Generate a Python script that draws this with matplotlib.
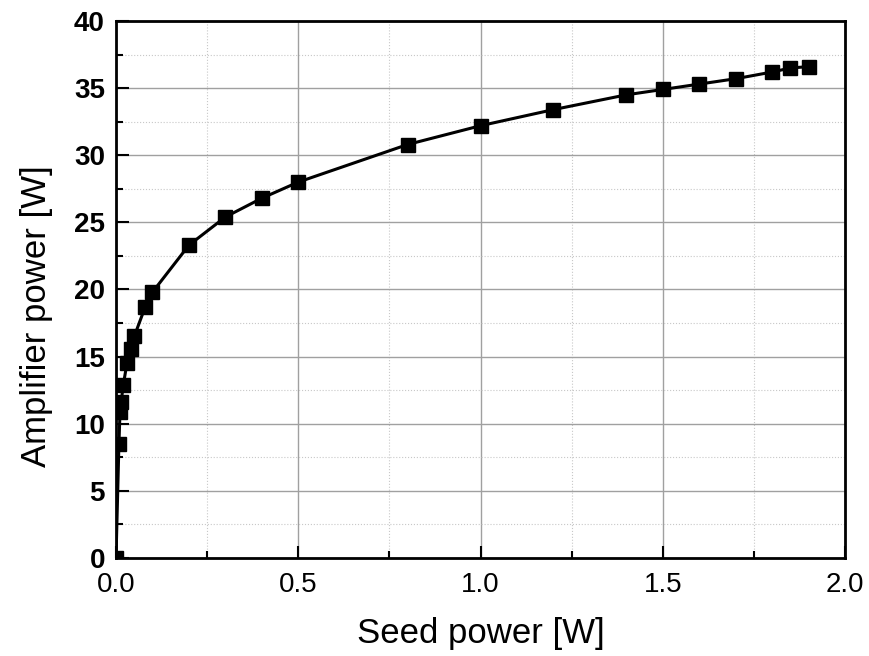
import matplotlib.pyplot as plt
from matplotlib.ticker import MultipleLocator

plt.rcParams['font.family'] = ['Liberation Sans', 'DejaVu Sans']

# data
seed = [0.0, 0.008, 0.011, 0.014, 0.02, 0.03, 0.04, 0.05, 0.08, 0.1,
        0.2, 0.3, 0.4, 0.5, 0.8, 1.0, 1.2, 1.4, 1.5, 1.6, 1.7, 1.8, 1.85, 1.9]
amp = [0.0, 8.5, 10.9, 11.6, 12.9, 14.5, 15.6, 16.5, 18.7, 19.8,
       23.3, 25.4, 26.8, 28.0, 30.8, 32.2, 33.4, 34.5, 34.9, 35.3, 35.7, 36.2, 36.5, 36.6]

fig = plt.figure(figsize=(8.69, 6.56), dpi=100)
ax = fig.add_axes([0.1335, 0.1494, 0.839, 0.8186])

ax.plot(seed, amp, color='black', linewidth=2.2, marker='s', markersize=10.5,
        markeredgecolor='black', markerfacecolor='black', zorder=3)

ax.set_xlim(0, 2.0)
ax.set_ylim(0, 40)
ax.xaxis.set_major_locator(MultipleLocator(0.5))
ax.xaxis.set_minor_locator(MultipleLocator(0.25))
ax.yaxis.set_major_locator(MultipleLocator(5))
ax.yaxis.set_minor_locator(MultipleLocator(2.5))
ax.xaxis.set_major_formatter(plt.FormatStrFormatter('%.1f'))

ax.grid(True, which='major', color='#a0a0a0', linewidth=1, linestyle='-')
ax.grid(True, which='minor', color='#c8c8c8', linewidth=0.8, linestyle=':')
ax.set_axisbelow(True)

ax.tick_params(which='major', direction='in', length=9, width=1.5, labelsize=20,
               top=False, right=False)
ax.tick_params(axis='x', which='major', pad=10)
ax.tick_params(axis='y', which='major', pad=8)
ax.tick_params(which='minor', direction='in', length=5, width=1.5,
               top=False, right=False)
for lbl in ax.get_yticklabels():
    lbl.set_fontweight('bold')
for s in ax.spines.values():
    s.set_linewidth(2)

ax.set_xlabel('Seed power [W]', fontsize=25, labelpad=14)
ax.set_ylabel('Amplifier power [W]', fontsize=25)
ax.yaxis.set_label_coords(-0.086, 0.45)

plt.savefig('out.png', dpi=100)
